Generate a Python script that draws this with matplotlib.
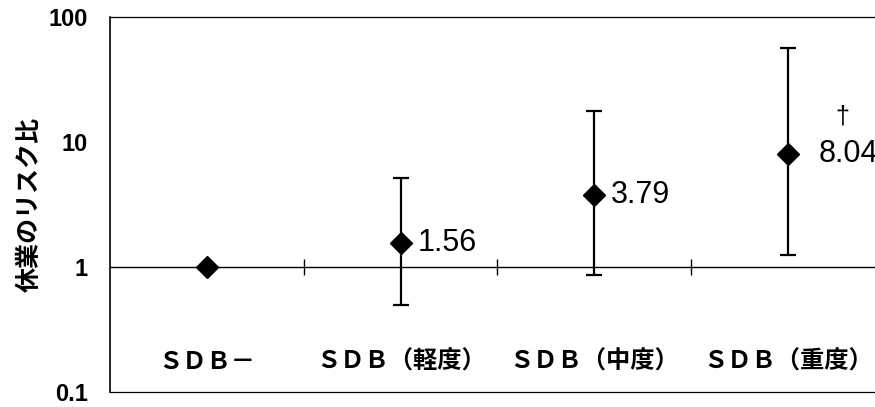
import numpy as np
import matplotlib
matplotlib.use("Agg")
import matplotlib.pyplot as plt

# データ
categories = ["ＳＤＢ－", "ＳＤＢ（軽度）", "ＳＤＢ（中度）", "ＳＤＢ（重度）"]
risk_ratio = [1.0, 1.56, 3.79, 8.04]
ci_low = [1.0, 0.50, 0.86, 1.25]
ci_high = [1.0, 5.15, 17.7, 56.5]
value_labels = ["", "1.56", "3.79", "8.04"]
dagger_index = 3
ylabel = "休業のリスク比"
yticks = [0.1, 1, 10, 100]
ytick_labels = ["0.1", "1", "10", "100"]

JP = ["Noto Sans CJK JP", "DejaVu Sans"]
NUM = ["Liberation Sans", "DejaVu Sans"]

fig = plt.figure(figsize=(8.75, 4.07), dpi=100)
ax = fig.add_axes([110 / 875, 15 / 407, 775 / 875, 375 / 407])

x = np.arange(len(categories))
y = np.array(risk_ratio)
err = np.array([y - np.array(ci_low), np.array(ci_high) - y])

ax.set_yscale("log")
ylo, yhi = yticks[0], yticks[-1]
ax.set_ylim(ylo, yhi)
ax.set_xlim(-0.5, len(categories) - 0.5)

# 基準線 (y=1) と区切り目盛
base_frac = (np.log10(1) - np.log10(ylo)) / (np.log10(yhi) - np.log10(ylo))
sec = ax.secondary_xaxis(base_frac)
sec.set_xticks(x[:-1] + 0.5)
sec.tick_params(direction="inout", length=12, width=1, labelbottom=False, labeltop=False)
sec.spines["bottom"].set_linewidth(1)

ax.errorbar(x, y, yerr=err, fmt="none", ecolor="black", elinewidth=1.6,
            capsize=6, capthick=1.6, zorder=3)
ax.plot(x, y, linestyle="none", marker="D", markersize=11.5, color="black", zorder=4)

for i, lab in enumerate(value_labels):
    if not lab:
        continue
    dx = 22 if i == dagger_index else 12
    ax.annotate(lab, (x[i], y[i]), xytext=(dx, 0), textcoords="offset points",
                ha="left", va="center", fontsize=22, family=NUM)

ax.annotate("†", (x[dagger_index], y[dagger_index]), xytext=(39, 27),
            textcoords="offset points", ha="center", va="center",
            fontsize=18, family=NUM)

# カテゴリ名（プロット内下部）
trans = ax.get_xaxis_transform()
for i, c in enumerate(categories):
    ax.text(x[i], 0.08, c, transform=trans, ha="center", va="center",
            fontsize=17.5, fontweight="bold", family=JP)

ax.set_xticks([])
ax.minorticks_off()
ax.set_yticks(yticks)
ax.set_yticklabels(ytick_labels, family=NUM, fontsize=17, fontweight="bold")
ax.tick_params(axis="y", length=0, pad=16)
ax.yaxis.set_minor_locator(matplotlib.ticker.NullLocator())

ax.set_ylabel(ylabel, family=JP, fontsize=18, fontweight="bold", labelpad=5)

for s in ["top", "bottom"]:
    ax.spines[s].set_linewidth(0.9)
    ax.spines[s].set_linestyle((0, (6, 1)))
ax.spines["left"].set_linewidth(1.2)
ax.spines["right"].set_visible(False)

fig.savefig("out.png", dpi=100)
